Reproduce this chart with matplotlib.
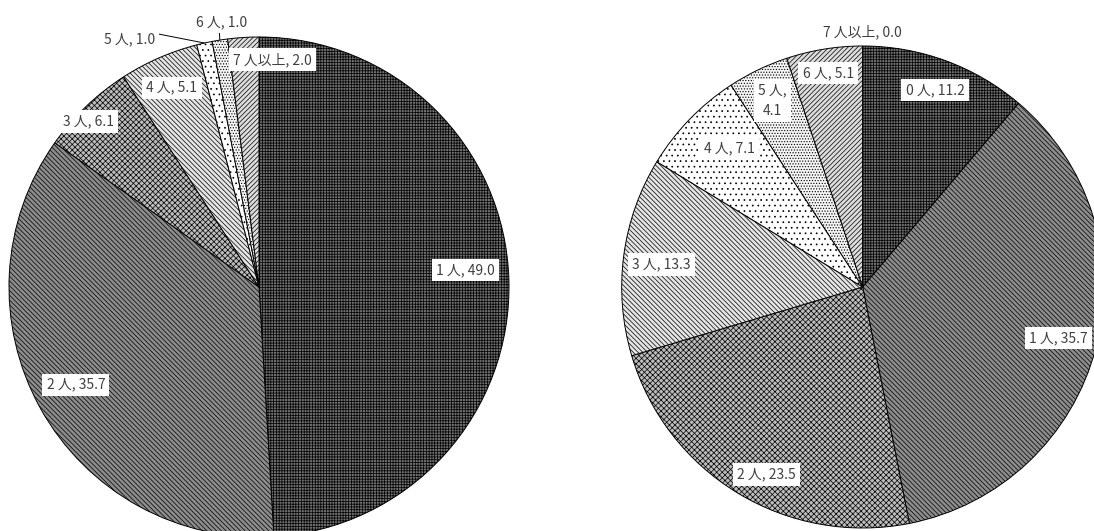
import numpy as np
import matplotlib
matplotlib.use("Agg")
import matplotlib.pyplot as plt

plt.rcParams['font.family'] = ['Noto Sans CJK JP', 'DejaVu Sans']
plt.rcParams['hatch.linewidth'] = 0.5

# données : graphique de gauche
cats_left = ['1 人', '2 人', '3 人', '4 人', '5 人', '6 人', '7 人以上']
vals_left = [49.0, 35.7, 6.1, 5.1, 1.0, 1.0, 2.0]

# données : graphique de droite
cats_right = ['0 人', '1 人', '2 人', '3 人', '4 人', '5 人', '6 人', '7 人以上']
vals_right = [11.2, 35.7, 23.5, 13.3, 7.1, 4.1, 5.1, 0.0]

# motifs (couleur de fond, hachure) par position de part
faces = ['#6e6e6e', '#8c8c8c', '#bcbcbc', '#e4e4e4', '#ffffff', '#f4f4f4', '#dcdcdc', '#ffffff']
hatches = ['++++++', '\\\\\\\\\\\\\\', 'xxxxxx', '\\\\\\\\\\\\\\', '...', '......', '///////', '']

# placement des étiquettes (rayon relatif, décalage angulaire en degrés)
r_left = [0.83, 0.83, 0.95, 0.87, 1.12, 1.07, 0.91]
shift_left = [-3, 1, -2, 0, -15, 1, 7]
r_right = [0.87, 0.84, 0.875, 0.84, 0.80, 0.86, 0.90, 1.06]
shift_right = [0, 0, -4, -1, 2, 0, 0, 0]

fig = plt.figure(figsize=(10.94, 5.31), dpi=100)


def draw_pie(ax, cats, vals, radii, shifts, leaders, two_lines):
    n = len(vals)
    wedges, _ = ax.pie(vals, startangle=90, counterclock=False, radius=1,
                       colors=faces[:n],
                       wedgeprops=dict(edgecolor='black', linewidth=0.7))
    for i, w in enumerate(wedges):
        w.set_hatch(hatches[i])
        w.set_clip_on(False)
    total = sum(vals)
    cum = np.cumsum([0] + vals[:-1])
    for i in range(n):
        mid = 360 * (cum[i] + vals[i] / 2) / total
        ang = np.radians(mid + shifts[i])
        tx, ty = radii[i] * np.sin(ang), radii[i] * np.cos(ang)
        sep = ',\n' if i in two_lines else ', '
        txt = f"{cats[i]}{sep}{vals[i]:.1f}"
        bbox = dict(boxstyle='square,pad=0.3', fc='white', ec='none')
        if i in leaders:
            ex, ey = np.sin(np.radians(mid)), np.cos(np.radians(mid))
            ax.annotate(txt, xy=(ex, ey), xytext=(tx, ty), ha='center', va='center',
                        fontsize=10, color='#404040', bbox=bbox,
                        arrowprops=dict(arrowstyle='-', color='black', lw=0.7,
                                        shrinkA=0, shrinkB=0, relpos=leaders[i]),
                        annotation_clip=False)
        else:
            ax.text(tx, ty, txt, ha='center', va='center', fontsize=10,
                    color='#404040', bbox=bbox, linespacing=1.6)
    ax.set_xlim(-1, 1)
    ax.set_ylim(-1, 1)
    ax.set_aspect('equal')
    ax.axis('off')


ax1 = fig.add_axes([9 / 1094, -6 / 531, 500 / 1094, 500 / 531])
draw_pie(ax1, cats_left, vals_left, r_left, shift_left,
         {4: (1.0, 0.9), 5: (0.45, 0.0)}, [])

ax2 = fig.add_axes([621.7 / 1094, 3 / 531, 482 / 1094, 482 / 531])
draw_pie(ax2, cats_right, vals_right, r_right, shift_right, {}, [5])

fig.savefig('out.png', dpi=100)
